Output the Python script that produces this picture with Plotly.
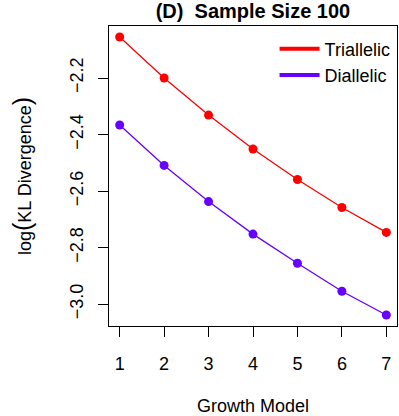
import plotly.graph_objects as go

growth_model = [1, 2, 3, 4, 5, 6, 7]
triallelic = [-2.055, -2.200, -2.331, -2.451, -2.559, -2.658, -2.746]
diallelic = [-2.366, -2.509, -2.637, -2.752, -2.855, -2.954, -3.038]
y_ticks = [-3.0, -2.8, -2.6, -2.4, -2.2]

series = [("Triallelic", triallelic, "#FF0000"), ("Diallelic", diallelic, "#6600FF")]
FONT = "Liberation Sans, Arial, sans-serif"

fig = go.Figure()
for name, vals, col in series:
    fig.add_scatter(
        x=growth_model, y=vals, mode="lines+markers", showlegend=False,
        line=dict(color=col, width=1.3), marker=dict(color=col, size=9),
    )
# legend-only entries (lines only, like the R legend)
for name, vals, col in series:
    fig.add_scatter(
        x=[None], y=[None], mode="lines", name=name,
        line=dict(color=col, width=4),
    )

fig.update_layout(
    width=399, height=416,
    margin=dict(l=109, r=2, t=26, b=90),
    plot_bgcolor="white", paper_bgcolor="white",
    font=dict(family=FONT, size=18, color="black"),
    title=dict(text="<b>(D)  Sample Size 100</b>", x=0.634, xanchor="center",
               y=0.973, yanchor="middle", font=dict(size=20)),
    legend=dict(x=0.995, xanchor="right", y=0.985, yanchor="top",
                bgcolor="rgba(0,0,0,0)", font=dict(size=18),
                itemwidth=40, tracegroupgap=0),
    xaxis=dict(range=[0.76, 7.24], tickvals=growth_model, ticks="outside", ticklen=10,
               tickcolor="black", showgrid=False, zeroline=False, showline=True,
               linecolor="black", mirror=True, tickfont=dict(size=18),
               ticklabelstandoff=11,
               title=dict(text="Growth Model", standoff=26, font=dict(size=18))),
    yaxis=dict(range=[-3.077, -2.016], tickvals=y_ticks,
               ticktext=["\u2212%.1f" % abs(v) for v in y_ticks],
               tickangle=-90, ticks="outside", ticklen=10, tickcolor="black",
               showgrid=False, zeroline=False, showline=True, linecolor="black",
               mirror=True, tickfont=dict(size=18), ticklabelstandoff=8,
               title=dict(text="log<span style='font-size:25px'>(</span>KL Divergence<span style='font-size:25px'>)</span>",
                          standoff=30, font=dict(size=18))),
)

fig.write_html("out.html", config={"displayModeBar": False},
               post_script="document.body.style.margin='0';")
